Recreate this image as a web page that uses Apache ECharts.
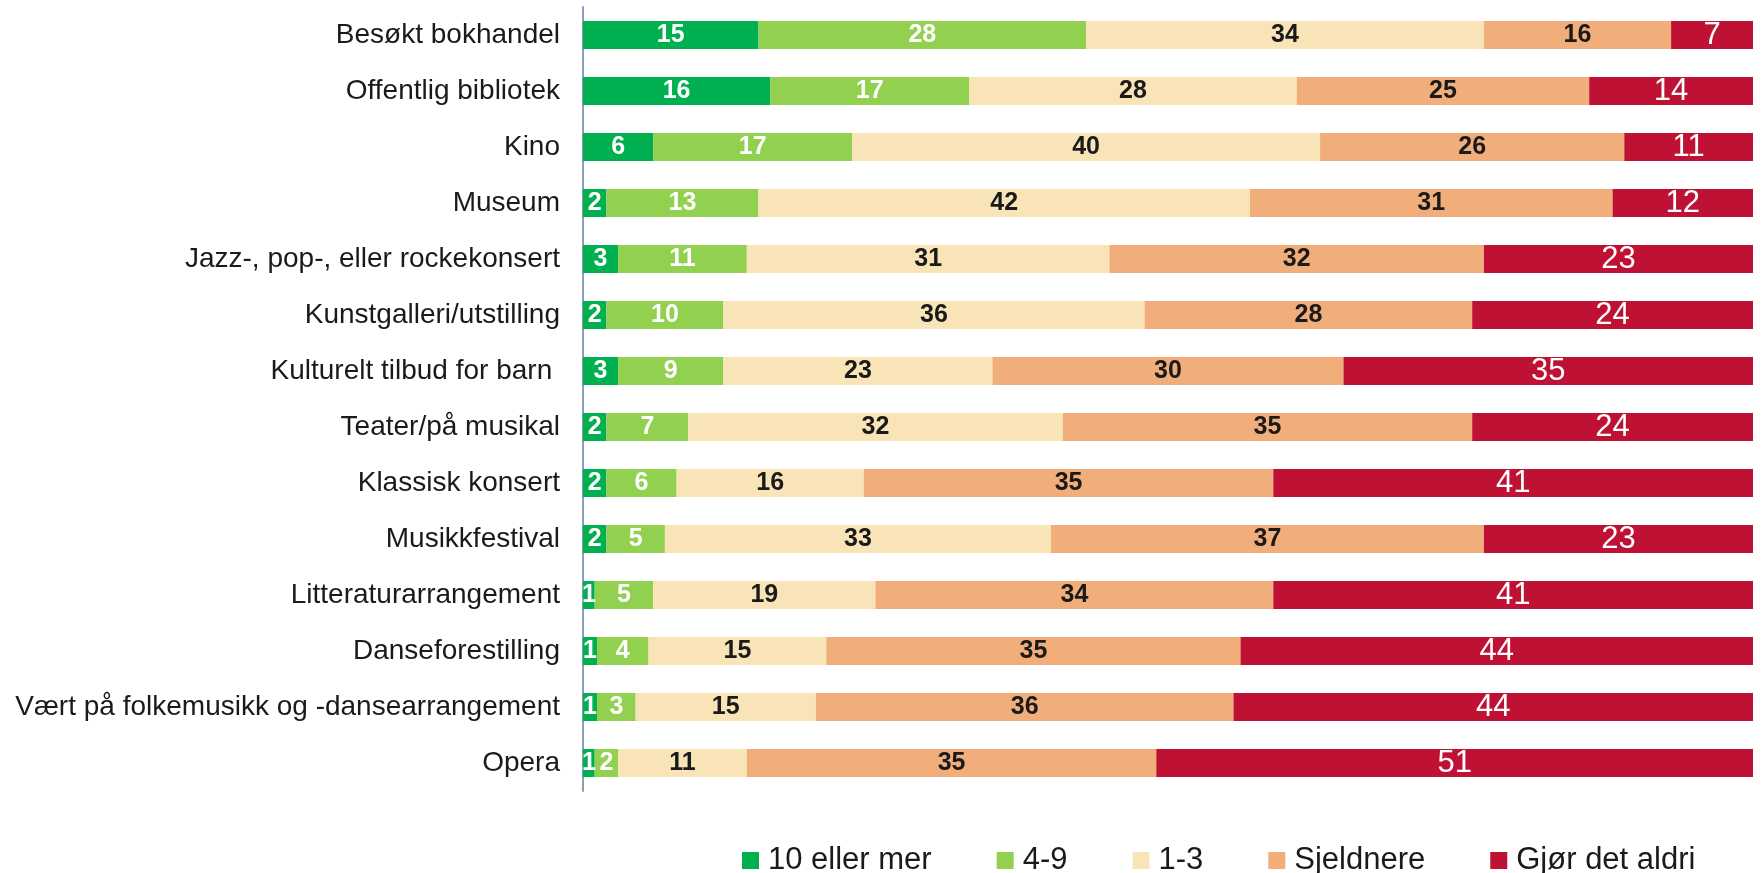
<!DOCTYPE html>
<html>
<head>
<meta charset="utf-8">
<script src="https://cdn.jsdelivr.net/npm/echarts@6/dist/echarts.min.js"></script>
<style>
  html, body { margin: 0; padding: 0; background: #fff; }
  #chart { width: 1762px; height: 873px; }
</style>
</head>
<body>
<div id="chart"></div>
<script>
// categories, top to bottom
const categories = [
  'Besøkt bokhandel',
  'Offentlig bibliotek',
  'Kino',
  'Museum',
  'Jazz-, pop-, eller rockekonsert',
  'Kunstgalleri/utstilling',
  'Kulturelt tilbud for barn ',
  'Teater/på musikal',
  'Klassisk konsert',
  'Musikkfestival',
  'Litteraturarrangement',
  'Danseforestilling',
  'Vært på folkemusikk og -dansearrangement',
  'Opera'
];

const seriesNames = ['10 eller mer', '4-9', '1-3', 'Sjeldnere', 'Gjør det aldri'];

// percentages (labels are shown rounded)
const tenOrMore = [15, 16, 6, 2, 3, 2, 3, 2, 2, 2, 1, 1.2, 1.2, 1];
const fourToNine = [28, 17, 17, 13, 11, 10, 9, 7, 6, 5, 5, 4.4, 3.3, 2];
const oneToThree = [34, 28, 40, 42, 31, 36, 23, 32, 16, 33, 19, 15.2, 15.4, 11];
const rarer = [16, 25, 26, 31, 32, 28, 30, 35, 35, 37, 34, 35.4, 35.7, 35];
const never = [7, 14, 11, 12, 23, 24, 35, 24, 41, 23, 41, 43.8, 44.4, 51];

const colors = ['#00B050', '#92D050', '#F9E4B7', '#F1AE7A', '#BE1134'];
const FONT = '"Liberation Sans", Arial, sans-serif';

function makeSeries(name, data, color, labelColor, bold, size) {
  return {
    name: name,
    type: 'bar',
    stack: 'total',
    barWidth: 28,
    data: data,
    itemStyle: { color: color },
    label: {
      show: true,
      position: 'inside',
      color: labelColor,
      fontFamily: FONT,
      fontWeight: bold ? 'bold' : 'normal',
      fontSize: size,
      formatter: p => Math.round(p.value)
    },
    emphasis: { disabled: true }
  };
}

const chart = echarts.init(document.getElementById('chart'));

chart.setOption({
  animation: false,
  grid: { left: 583, right: 9, top: 7, bottom: 82 },
  legend: {
    left: 737,
    top: 840,
    icon: 'rect',
    itemWidth: 17,
    itemHeight: 17,
    itemGap: 65,
    textStyle: { fontFamily: FONT, fontSize: 31, color: '#1a1a1a', padding: [0, 0, 0, 4] },
    data: seriesNames
  },
  xAxis: {
    type: 'value',
    min: 0,
    max: 100,
    show: false
  },
  yAxis: {
    type: 'category',
    inverse: true,
    data: categories,
    axisLine: { show: true, lineStyle: { color: '#8C9DB8', width: 2 } },
    axisTick: { show: false },
    axisLabel: { margin: 23, fontFamily: FONT, fontSize: 28, color: '#1a1a1a' }
  },
  series: [
    makeSeries(seriesNames[0], tenOrMore, colors[0], '#fff', true, 25),
    makeSeries(seriesNames[1], fourToNine, colors[1], '#fff', true, 25),
    makeSeries(seriesNames[2], oneToThree, colors[2], '#1a1a1a', true, 25),
    makeSeries(seriesNames[3], rarer, colors[3], '#1a1a1a', true, 25),
    makeSeries(seriesNames[4], never, colors[4], '#fff', false, 31)
  ]
});
</script>
</body>
</html>
